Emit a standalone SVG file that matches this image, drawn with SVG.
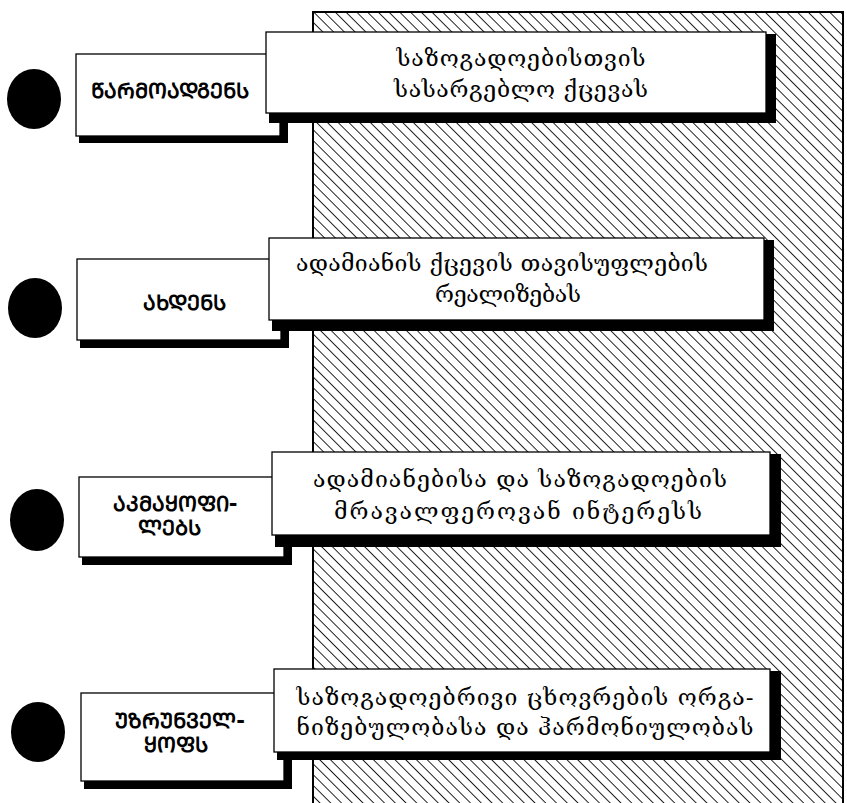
<svg xmlns="http://www.w3.org/2000/svg" width="847" height="803" viewBox="0 0 847 803">
<defs>
<pattern id="hatch" patternUnits="userSpaceOnUse" width="7.6" height="7.6" patternTransform="rotate(-45)">
<line x1="0" y1="0" x2="0" y2="7.6" stroke="#000" stroke-width="1.7"/>
</pattern>
<style>
.box{fill:#fff;stroke:#000;stroke-width:1.3}
.shadow{fill:#000}
.bullet{fill:#000}
.desc{font-family:"DejaVu Serif","DejaVu Sans",serif;font-size:23px;text-anchor:middle;fill:#000}
.lbl{font-family:"DejaVu Sans","Noto Sans",sans-serif;font-size:21px;font-weight:bold;text-anchor:middle;fill:#000}
</style>
</defs>
<rect id="background" x="313" y="12" width="530" height="800" fill="url(#hatch)" stroke="#000" stroke-width="2"/>

<g id="bullet-1"><ellipse class="bullet" cx="34" cy="99" rx="27" ry="30"/></g>
<g id="label-1">
<rect class="shadow" x="79" y="56" width="209" height="87"/>
<rect class="box" x="76" y="54" width="204" height="82"/>
<text class="lbl" x="170" y="98">&#x1CAC;&#x1C90;&#x1CA0;&#x1C9B;&#x1C9D;&#x1C90;&#x1C93;&#x1C92;&#x1C94;&#x1C9C;&#x1CA1;</text>
</g>
<g id="desc-1">
<rect class="shadow" x="269" y="34" width="507" height="89"/>
<rect class="box" x="266" y="32" width="500" height="81"/>
<text class="desc" x="521" y="66" textLength="249">საზოგადოებისთვის</text>
<text class="desc" x="521" y="97" textLength="254">სასარგებლო  ქცევას</text>
</g>

<g id="bullet-2"><ellipse class="bullet" cx="35" cy="308" rx="27" ry="30"/></g>
<g id="label-2">
<rect class="shadow" x="80" y="261" width="209" height="87"/>
<rect class="box" x="77" y="259" width="204" height="81"/>
<text class="lbl" x="184" y="310">&#x1C90;&#x1CAE;&#x1C93;&#x1C94;&#x1C9C;&#x1CA1;</text>
</g>
<g id="desc-2">
<rect class="shadow" x="272" y="240" width="502" height="91"/>
<rect class="box" x="269" y="238" width="495" height="82"/>
<text class="desc" x="502" y="271" textLength="412">ადამიანის ქცევის თავისუფლების</text>
<text class="desc" x="508" y="302" textLength="146">რეალიზებას</text>
</g>

<g id="bullet-3"><ellipse class="bullet" cx="37" cy="520" rx="27" ry="31"/></g>
<g id="label-3">
<rect class="shadow" x="82" y="479" width="210" height="86"/>
<rect class="box" x="79" y="477" width="205" height="80"/>
<text class="lbl" x="175" y="511">&#x1C90;&#x1C99;&#x1C9B;&#x1C90;&#x1CA7;&#x1C9D;&#x1CA4;&#x1C98;-</text>
<text class="lbl" x="169" y="535">&#x1C9A;&#x1C94;&#x1C91;&#x1CA1;</text>
</g>
<g id="desc-3">
<rect class="shadow" x="275" y="454" width="506" height="93"/>
<rect class="box" x="272" y="452" width="498" height="83"/>
<text class="desc" x="520" y="487" textLength="414">ადამიანებისა და საზოგადოების</text>
<text class="desc" x="518" y="519" textLength="368">მრავალფეროვან ინტერესს</text>
</g>

<g id="bullet-4"><ellipse class="bullet" cx="38" cy="732" rx="27" ry="30"/></g>
<g id="label-4">
<rect class="shadow" x="84" y="695" width="208" height="94"/>
<rect class="box" x="81" y="693" width="203" height="88"/>
<text class="lbl" x="180" y="728">&#x1CA3;&#x1C96;&#x1CA0;&#x1CA3;&#x1C9C;&#x1C95;&#x1C94;&#x1C9A;-</text>
<text class="lbl" x="176" y="752">&#x1CA7;&#x1C9D;&#x1CA4;&#x1CA1;</text>
</g>
<g id="desc-4">
<rect class="shadow" x="277" y="671" width="504" height="89"/>
<rect class="box" x="274" y="669" width="496" height="83"/>
<text class="desc" x="525" y="705" textLength="457">საზოგადოებრივი ცხოვრების ორგა-</text>
<text class="desc" x="525" y="735" textLength="457">ნიზებულობასა და ჰარმონიულობას</text>
</g>
</svg>
